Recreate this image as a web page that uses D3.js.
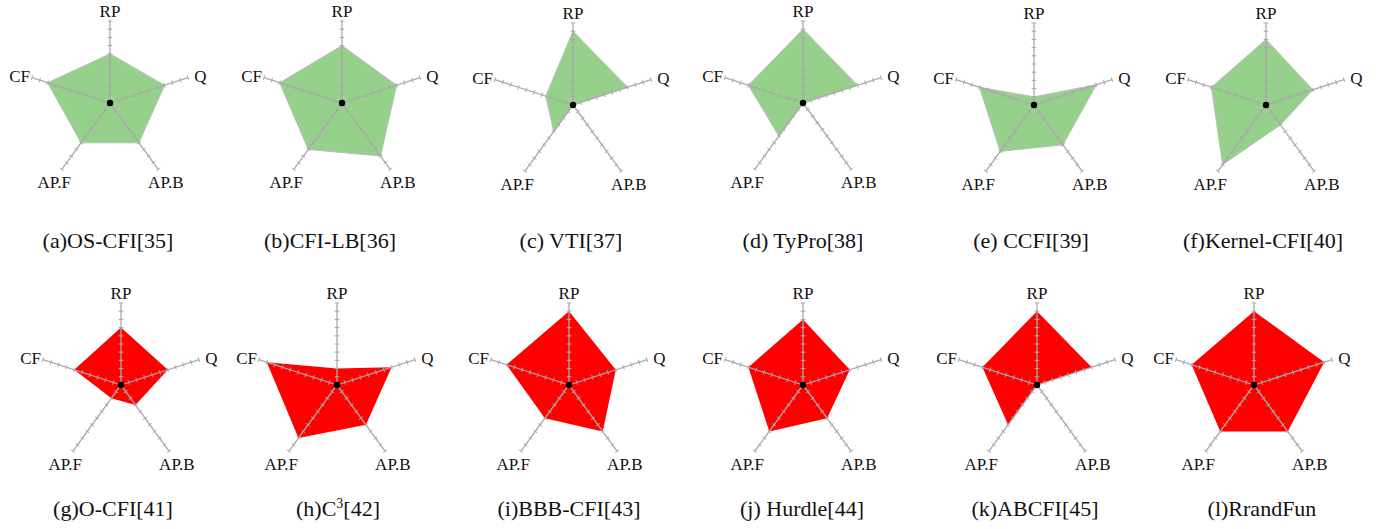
<!DOCTYPE html>
<html>
<head>
<meta charset="utf-8">
<script src="https://cdn.jsdelivr.net/npm/d3@7"></script>
<style>
  html, body { margin: 0; padding: 0; background: #fff; }
  svg { display: block; }
  text { font-family: "Liberation Serif", "Times New Roman", serif; fill: #111; }
</style>
</head>
<body>
<svg id="chart" width="1383" height="529"></svg>
<script>
// Radar axes, clockwise from the top
const axes = ["RP", "Q", "AP.B", "AP.F", "CF"];

// Panel captions (a)–(l)
const titles = [
  "(a)OS-CFI[35]", "(b)CFI-LB[36]", "(c) VTI[37]", "(d) TyPro[38]", "(e) CCFI[39]", "(f)Kernel-CFI[40]",
  "(g)O-CFI[41]", "(h)C|3|[42]", "(i)BBB-CFI[43]", "(j) Hurdle[44]", "(k)ABCFI[45]", "(l)RrandFun"
];

// Scores per axis for each panel (0–1 scale)
const rpScores  = [0.60, 0.70, 0.90, 0.90, 0.10, 0.80, 0.70, 0.20, 0.90, 0.80, 0.90, 0.90];
const qScores   = [0.70, 0.70, 0.70, 0.70, 0.80, 0.60, 0.60, 0.70, 0.60, 0.60, 0.70, 0.90];
const apbScores = [0.60, 0.80, 0.00, 0.00, 0.60, 0.30, 0.30, 0.60, 0.70, 0.50, 0.00, 0.70];
const apfScores = [0.60, 0.70, 0.40, 0.50, 0.70, 0.90, 0.20, 0.80, 0.50, 0.70, 0.60, 0.70];
const cfScores  = [0.80, 0.80, 0.35, 0.70, 0.70, 0.70, 0.60, 0.90, 0.80, 0.70, 0.70, 0.80];

// Tick values along each axis
const tickValues = d3.range(1, 11).map(d => d / 10);

// Panel group: first six green, last six red
const groups = ["green", "green", "green", "green", "green", "green", "red", "red", "red", "red", "red", "red"];

// ---- layout ----
const fills = { green: "#96d18b", red: "#ff0000" };
const strokes = { green: "#bdbdbd", red: "none" };
const centers = [
  [110, 103], [342, 103], [573, 105], [803, 103], [1034, 105], [1266, 105],
  [121, 385], [337, 385], [569, 385], [803, 385], [1037, 385], [1254, 385]
];
const captionPos = [
  [108, 248], [330, 248], [571, 248], [803, 248], [1031, 248], [1263, 248],
  [113, 516], [338, 516], [569, 516], [802, 516], [1035, 516], [1262, 516]
];
const R = 82;
const axisColor = "#a9a9a9";

const r = d3.scaleLinear().domain([0, 1]).range([0, R]);
const angle = d3.scaleBand().domain(axes).range([0, 2 * Math.PI]).align(0).paddingInner(0).paddingOuter(0);
const ang = a => angle(a) - Math.PI / 2; // 0 = up

const svg = d3.select("#chart");

const panels = titles.map((t, i) => ({
  title: t,
  group: groups[i],
  values: [rpScores[i], qScores[i], apbScores[i], apfScores[i], cfScores[i]],
  cx: centers[i][0], cy: centers[i][1],
  tx: captionPos[i][0], ty: captionPos[i][1]
}));

const line = d3.lineRadial()
  .angle((d, j) => angle(axes[j]))
  .radius(d => r(d))
  .curve(d3.curveLinearClosed);

panels.forEach(p => {
  const g = svg.append("g").attr("transform", `translate(${p.cx},${p.cy})`);

  // filled score polygon
  g.append("path")
    .attr("d", line(p.values))
    .attr("fill", fills[p.group])
    .attr("stroke", strokes[p.group])
    .attr("stroke-width", 1);

  // axes with ticks
  axes.forEach(a => {
    const th = ang(a);
    const ux = Math.cos(th), uy = Math.sin(th);
    const px = -uy, py = ux;
    g.append("line")
      .attr("x1", 0).attr("y1", 0)
      .attr("x2", r(1) * ux).attr("y2", r(1) * uy)
      .attr("stroke", axisColor).attr("stroke-width", 1.3);
    g.selectAll(null).data(tickValues).enter().append("line")
      .attr("x1", d => r(d) * ux - 2.4 * px).attr("y1", d => r(d) * uy - 2.4 * py)
      .attr("x2", d => r(d) * ux + 2.4 * px).attr("y2", d => r(d) * uy + 2.4 * py)
      .attr("stroke", axisColor).attr("stroke-width", 1);

    // axis label
    const lr = R + 13;
    g.append("text")
      .attr("x", lr * ux)
      .attr("y", lr * uy + 3)
      .attr("text-anchor", "middle")
      .attr("dominant-baseline", "central")
      .attr("font-size", 17)
      .text(a);
  });

  // centre dot
  g.append("circle").attr("r", 3.2).attr("fill", "#000");

  // caption (|x| marks a superscript part)
  const parts = p.title.split("|");
  const cap = svg.append("text")
    .attr("x", p.tx).attr("y", p.ty)
    .attr("text-anchor", "middle")
    .attr("font-size", 22);
  parts.forEach((s, k) => {
    const ts = cap.append("tspan").text(s);
    if (k % 2 === 1) ts.attr("font-size", 14).attr("dy", -8);
    else if (k > 0) ts.attr("dy", 8);
  });
});
</script>
</body>
</html>
